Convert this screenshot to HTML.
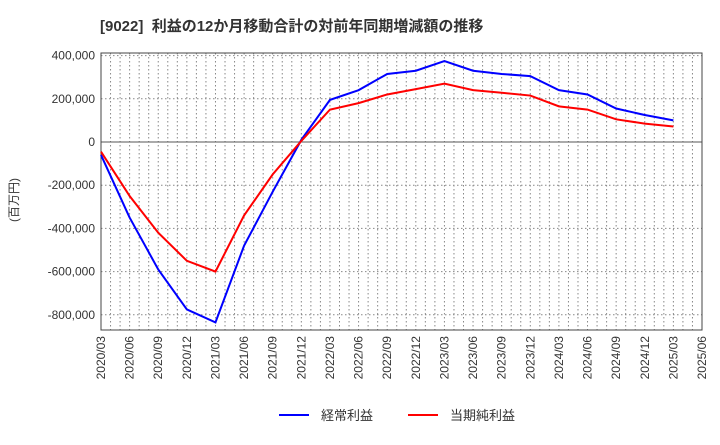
<!DOCTYPE html>
<html><head><meta charset="utf-8"><style>
body{margin:0;background:#fff;width:720px;height:440px;overflow:hidden;font-family:"Liberation Sans","Noto Sans CJK JP",sans-serif}
</style></head><body>
<svg id="c" width="720" height="440" xmlns="http://www.w3.org/2000/svg" font-family="Liberation Sans, Noto Sans CJK JP, sans-serif">
<text x="100" y="31" font-size="15" font-weight="bold" fill="#333" xml:space="preserve">[9022]  利益の12か月移動合計の対前年同期増減額の推移</text>
<text transform="translate(18,200) rotate(-90)" font-size="12" fill="#333" text-anchor="middle">(百万円)</text>
<g id="grid"></g><g id="axes"></g><g id="series"></g>
<g>
<line x1="279" y1="415" x2="309" y2="415" stroke="#00f" stroke-width="2"/>
<text x="321" y="420" font-size="13" fill="#333">経常利益</text>
<line x1="408" y1="415" x2="438" y2="415" stroke="#f00" stroke-width="2"/>
<text x="450" y="420" font-size="13" fill="#333">当期純利益</text>
</g>
</svg>
<script>
const categories=["2020/03","2020/06","2020/09","2020/12","2021/03","2021/06","2021/09","2021/12","2022/03","2022/06","2022/09","2022/12","2023/03","2023/06","2023/09","2023/12","2024/03","2024/06","2024/09","2024/12","2025/03","2025/06"];
const ordinary=[-60000,-350000,-590000,-775000,-835000,-480000,-230000,10000,195000,240000,315000,330000,375000,330000,315000,305000,240000,220000,155000,125000,100000];
const netIncome=[-45000,-250000,-420000,-550000,-600000,-340000,-150000,5000,150000,180000,220000,245000,270000,240000,228000,215000,165000,150000,105000,85000,72000];
const yTicks=[400000,200000,0,-200000,-400000,-600000,-800000];
const L=101,R=702,T=53,B=330;
const xs=i=>L+(R-L)*i/21;
const ys=v=>142-v*43.2/200000;
const NS="http://www.w3.org/2000/svg";
function mk(p,t,a){const e=document.createElementNS(NS,t);for(const k in a)e.setAttribute(k,a[k]);p.appendChild(e);return e;}
const grid=document.getElementById('grid'),axes=document.getElementById('axes'),ser=document.getElementById('series');
for(let m=1;m<63;m++){const x=L+(R-L)*m/63;const g=mk(grid,'line',{x1:x,x2:x,y1:T,y2:B,stroke:'#888','stroke-dasharray':'1.5,2.5'});

}
yTicks.forEach(v=>{const y=ys(v);const g=mk(grid,'line',{x1:L,x2:R,y1:y,y2:y,stroke:v===0?'#555':'#888','stroke-dasharray':v===0?'':'1.5,2.5'});


const t=mk(axes,'text',{x:L-6,y:y+4,'text-anchor':'end','font-size':12,fill:'#333'});t.textContent=v.toLocaleString('en-US');

});
const fr=mk(axes,'rect',{x:L,y:T,width:R-L,height:B-T,fill:'none',stroke:'#444'});


categories.forEach((c,i)=>{const x=xs(i);const t=mk(axes,'text',{transform:`translate(${x+4},${B+6}) rotate(-90)`,'text-anchor':'end','font-size':12,fill:'#333'});t.textContent=c;

});
function line(d,col,name){const p=mk(ser,'polyline',{points:d.map((v,i)=>xs(i)+','+ys(v)).join(' '),fill:'none',stroke:col,'stroke-width':2});

}
line(ordinary,'#00f','ordinary-profit-line');
line(netIncome,'#f00','net-income-line');
</script>
</body></html>
